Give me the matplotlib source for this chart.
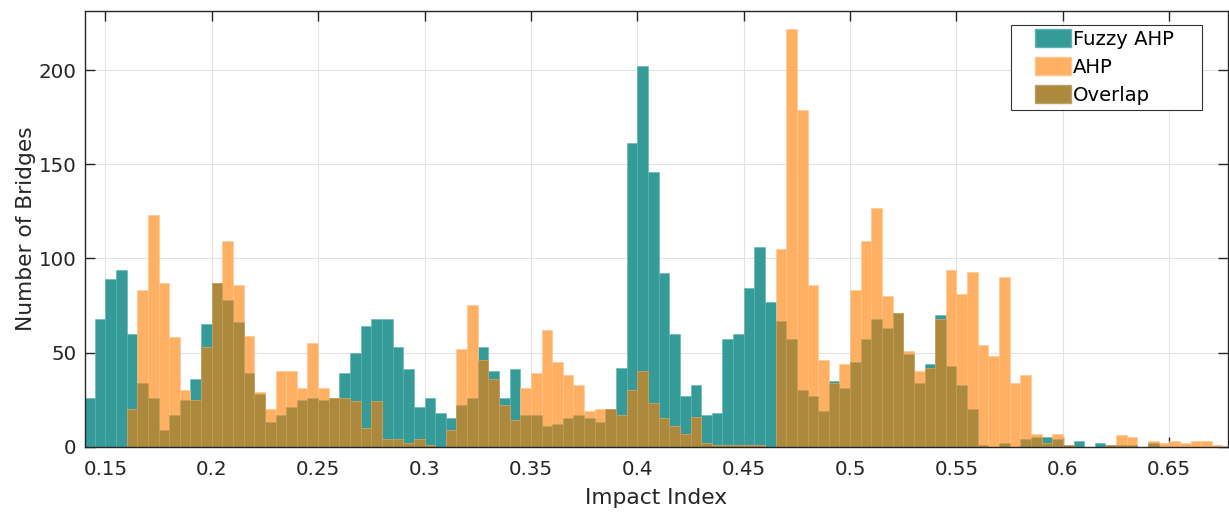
import numpy as np
import matplotlib
matplotlib.use("Agg")
import matplotlib.pyplot as plt
from matplotlib.patches import Patch, Rectangle

# ---- data ----
bin_start = 0.14
bin_width = 0.005

fuzzy_ahp = [26, 68, 89, 94, 60, 34, 26, 9, 17, 25,
             36, 65, 87, 78, 66, 39, 28, 13, 17, 21,
             25, 26, 25, 26, 39, 50, 64, 68, 68, 53,
             41, 21, 26, 18, 15, 22, 26, 53, 40, 26,
             41, 17, 17, 11, 12, 15, 17, 15, 13, 20,
             42, 161, 202, 146, 92, 60, 27, 33, 17, 18,
             57, 60, 84, 106, 77, 67, 57, 30, 27, 19,
             35, 31, 45, 57, 68, 63, 71, 49, 34, 44,
             70, 43, 33, 20, 1, 0, 2, 0, 4, 5,
             5, 4, 1, 3, 0, 2, 1, 1, 1, 0,
             2, 0, 0, 0, 0, 0, 0]

ahp = [0, 0, 0, 0, 20, 83, 123, 87, 58, 30,
       25, 53, 87, 109, 86, 59, 29, 20, 40, 40,
       31, 55, 31, 26, 26, 24, 10, 24, 4, 4,
       2, 4, 1, 0, 9, 52, 75, 46, 36, 22,
       14, 31, 39, 62, 45, 38, 33, 19, 20, 20,
       17, 30, 40, 23, 15, 11, 7, 16, 2, 1,
       1, 1, 1, 1, 0, 105, 222, 179, 86, 46,
       34, 44, 83, 109, 127, 80, 71, 51, 40, 42,
       68, 94, 81, 93, 54, 48, 90, 34, 38, 7,
       2, 7, 1, 0, 0, 0, 1, 6, 5, 0,
       3, 2, 3, 2, 3, 3, 1]

x_ticks = [0.15, 0.2, 0.25, 0.3, 0.35, 0.4, 0.45, 0.5, 0.55, 0.6, 0.65]
x_tick_labels = ["0.15", "0.2", "0.25", "0.3", "0.35", "0.4", "0.45", "0.5", "0.55", "0.6", "0.65"]
y_ticks = [0, 50, 100, 150, 200]

series_names = ["Fuzzy AHP", "AHP", "Overlap"]

# ---- style ----
c_fuzzy = "#349B98"
c_ahp = "#FFB062"
c_overlap = "#AD893E"
axis_col = "#262626"

plt.rcParams['font.family'] = ['DejaVu Sans']

F = np.array(fuzzy_ahp, dtype=float)
A = np.array(ahp, dtype=float)
O = np.minimum(F, A)
left_edges = bin_start + bin_width * np.arange(len(F))

W, H = 1229, 514
ax_l, ax_r, ax_t, ax_b = 84.7, 1228.0, 10.7, 446.7
fig = plt.figure(figsize=(W / 100, H / 100), dpi=100)
ax = fig.add_axes([ax_l / W, (H - ax_b) / H, (ax_r - ax_l) / W, (ax_b - ax_t) / H])

def ax_x(px):
    return (px - ax_l) / (ax_r - ax_l)

def ax_y(py):
    return (ax_b - py) / (ax_b - ax_t)

ax.bar(left_edges, F, width=bin_width, align='edge', color=c_fuzzy,
       edgecolor='#5FB3B0', linewidth=0.4, zorder=2)
ax.bar(left_edges, A, width=bin_width, align='edge', color=c_ahp,
       edgecolor='#FFC68C', linewidth=0.4, zorder=2)
ax.bar(left_edges, O, width=bin_width, align='edge', color=c_overlap,
       edgecolor='#BFA064', linewidth=0.4, zorder=3)

ax.set_xlim(0.1403, 0.6776)
ax.set_ylim(0, 231.5)
ax.set_xticks(x_ticks)
ax.set_xticklabels(x_tick_labels)
ax.set_yticks(y_ticks)

ax.grid(True, color='#E3E3E3', linewidth=0.8, zorder=0)
ax.set_axisbelow(True)

ax.tick_params(axis='both', direction='in', length=7.5, width=1,
               colors=axis_col, labelsize=14.3, top=True, right=True,
               labelcolor='#262626')
ax.tick_params(axis='x', pad=9.3)
ax.tick_params(axis='y', pad=6)
for s in ax.spines.values():
    s.set_color(axis_col)
    s.set_linewidth(1.0)
    s.set_zorder(5)

ax.set_xlabel("Impact Index", fontsize=15.7, color='#262626', labelpad=7)
ax.set_ylabel("Number of Bridges", fontsize=15.7, color='#262626', labelpad=2)

# legend frame (MATLAB style, wide side padding)
frame = Rectangle((ax_x(1010.7), ax_y(110.3)), ax_x(1202.3) - ax_x(1010.7),
                  ax_y(24.7) - ax_y(110.3), transform=ax.transAxes,
                  facecolor='white', edgecolor='#333333', linewidth=0.8,
                  zorder=9, clip_on=False)
ax.add_patch(frame)

handles = [Patch(facecolor=c_fuzzy, edgecolor='#5FB3B0'),
           Patch(facecolor=c_ahp, edgecolor='#FFC68C'),
           Patch(facecolor=c_overlap, edgecolor='#BFA064')]
leg = ax.legend(handles, series_names, loc='upper left',
                bbox_to_anchor=(ax_x(1034.7), ax_y(29.5)), fontsize=14.1,
                frameon=False, borderpad=0.0, labelspacing=0.43,
                handlelength=1.84, handleheight=1.0, handletextpad=0.1,
                borderaxespad=0.0)
leg.set_zorder(10)

fig.savefig("out.png", dpi=100)
